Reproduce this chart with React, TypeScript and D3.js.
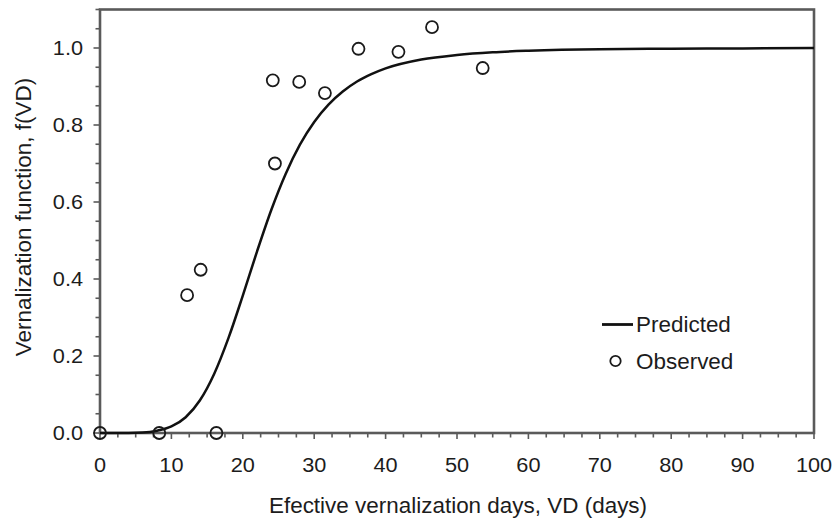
import { useEffect, useRef } from 'react'
import * as d3 from 'd3'

// predicted curve
const predVD = [0, 2, 4, 6, 8, 10, 12, 14, 16, 18, 20, 22, 24, 26, 28, 30, 32, 34, 36, 38, 40, 45, 50, 55, 60, 70, 80, 90, 100]
const predF = [0, 0, 0, 0.001, 0.006, 0.017, 0.041, 0.085, 0.154, 0.247, 0.357, 0.472, 0.58, 0.673, 0.749, 0.808, 0.853, 0.887, 0.913, 0.932, 0.947, 0.97, 0.982, 0.989, 0.993, 0.997, 0.998, 0.999, 1.0]

// observed points
const obsVD = [0, 8.3, 16.3, 12.2, 14.1, 24.2, 24.5, 27.9, 31.5, 36.2, 41.8, 46.5, 53.6]
const obsF = [0, 0, 0, 0.358, 0.424, 0.916, 0.7, 0.912, 0.883, 0.998, 0.99, 1.054, 0.948]

const xTicks = [0, 10, 20, 30, 40, 50, 60, 70, 80, 90, 100]
const yTicks = [0, 0.2, 0.4, 0.6, 0.8, 1.0]

const xTitle = 'Efective vernalization days, VD (days)'
const yTitle = 'Vernalization function, f(VD)'
const legendLabels = ['Predicted', 'Observed']

export default function App() {
  const ref = useRef<SVGSVGElement>(null)

  useEffect(() => {
    const svg = d3.select(ref.current)
    svg.selectAll('*').remove()
    const width = 836
    const height = 519
    const margin = { top: 9.5, right: 22, bottom: 86, left: 100 }
    const font = '"Liberation Sans", Arial, sans-serif'
    const axisColor = '#5a5a5a'
    const textColor = '#1c1c1c'
    const sx = 1.06 // the figure's lettering runs a little wide

    const x = d3.scaleLinear().domain([0, 100]).range([margin.left, width - margin.right])
    const y = d3.scaleLinear().domain([0, 1.1]).range([height - margin.bottom, margin.top])
    const x0 = x(0)
    const x1 = x(100)
    const y0 = y(0)
    const y1 = y(1.1)

    // minor + major ticks
    const xMinor = d3.range(0, 100.01, 2.5)
    const yMinor = d3.range(0, 1.1001, 0.05)

    svg
      .selectAll('line.xtick')
      .data(xMinor)
      .enter()
      .append('line')
      .attr('x1', d => x(d))
      .attr('x2', d => x(d))
      .attr('y1', y0)
      .attr('y2', d => y0 + (d % 10 === 0 ? 6 : 4.5))
      .attr('stroke', axisColor)
      .attr('stroke-width', 1.6)

    svg
      .selectAll('line.ytick')
      .data(yMinor)
      .enter()
      .append('line')
      .attr('x1', x0)
      .attr('x2', (d, i) => x0 - (i % 4 === 0 ? 6.5 : 4.5))
      .attr('y1', d => y(d))
      .attr('y2', d => y(d))
      .attr('stroke', axisColor)
      .attr('stroke-width', 1.6)

    // frame
    svg
      .append('rect')
      .attr('x', x0)
      .attr('y', y1)
      .attr('width', x1 - x0)
      .attr('height', y0 - y1)
      .attr('fill', 'none')
      .attr('stroke', axisColor)
      .attr('stroke-width', 2.6)

    // tick labels
    svg
      .selectAll('text.xlab')
      .data(xTicks)
      .enter()
      .append('text')
      .attr('transform', d => `translate(${x(d)},472) scale(${sx},1)`)
      .attr('text-anchor', 'middle')
      .attr('font-family', font)
      .attr('font-size', 20.5)
      .attr('fill', textColor)
      .text(d => String(d))

    svg
      .selectAll('text.ylab')
      .data(yTicks)
      .enter()
      .append('text')
      .attr('transform', d => `translate(83,${y(d) + 7}) scale(${sx},1)`)
      .attr('text-anchor', 'end')
      .attr('font-family', font)
      .attr('font-size', 20.5)
      .attr('fill', textColor)
      .text(d => d.toFixed(1))

    // axis titles
    svg
      .append('text')
      .attr('transform', `translate(458,513) scale(${sx},1)`)
      .attr('text-anchor', 'middle')
      .attr('font-family', font)
      .attr('font-size', 21.2)
      .attr('fill', textColor)
      .text(xTitle)

    svg
      .append('text')
      .attr('transform', `translate(31,217) rotate(-90) scale(${sx},1)`)
      .attr('text-anchor', 'middle')
      .attr('font-family', font)
      .attr('font-size', 21.2)
      .attr('fill', textColor)
      .text(yTitle)

    // predicted curve
    const line = d3
      .line<number>()
      .x(d => x(d))
      .y((d, i) => y(predF[i]))
      .curve(d3.curveMonotoneX)

    svg
      .append('path')
      .attr('d', line(predVD))
      .attr('fill', 'none')
      .attr('stroke', '#111')
      .attr('stroke-width', 2.5)

    // observed
    svg
      .selectAll('circle.obs')
      .data(obsVD)
      .enter()
      .append('circle')
      .attr('cx', d => x(d))
      .attr('cy', (d, i) => y(obsF[i]))
      .attr('r', 6)
      .attr('fill', 'none')
      .attr('stroke', '#1a1a1a')
      .attr('stroke-width', 1.8)

    // legend
    const lg = svg.append('g')
    lg.append('line')
      .attr('x1', 602)
      .attr('x2', 633)
      .attr('y1', 324.5)
      .attr('y2', 324.5)
      .attr('stroke', '#111')
      .attr('stroke-width', 2.8)
    lg.append('circle')
      .attr('cx', 615.5)
      .attr('cy', 361)
      .attr('r', 5.2)
      .attr('fill', 'none')
      .attr('stroke', '#1a1a1a')
      .attr('stroke-width', 1.8)
    lg.selectAll('text')
      .data(legendLabels)
      .enter()
      .append('text')
      .attr('transform', (d, i) => `translate(636,${332 + i * 36.5}) scale(${sx},1)`)
      .attr('font-family', font)
      .attr('font-size', 21.2)
      .attr('fill', textColor)
      .text(d => d)
  }, [])

  return (
    <svg
      ref={ref}
      width={836}
      height={519}
      viewBox="0 0 836 519"
      style={{ position: 'absolute', left: 0, top: 0, background: '#fff' }}
    />
  )
}
